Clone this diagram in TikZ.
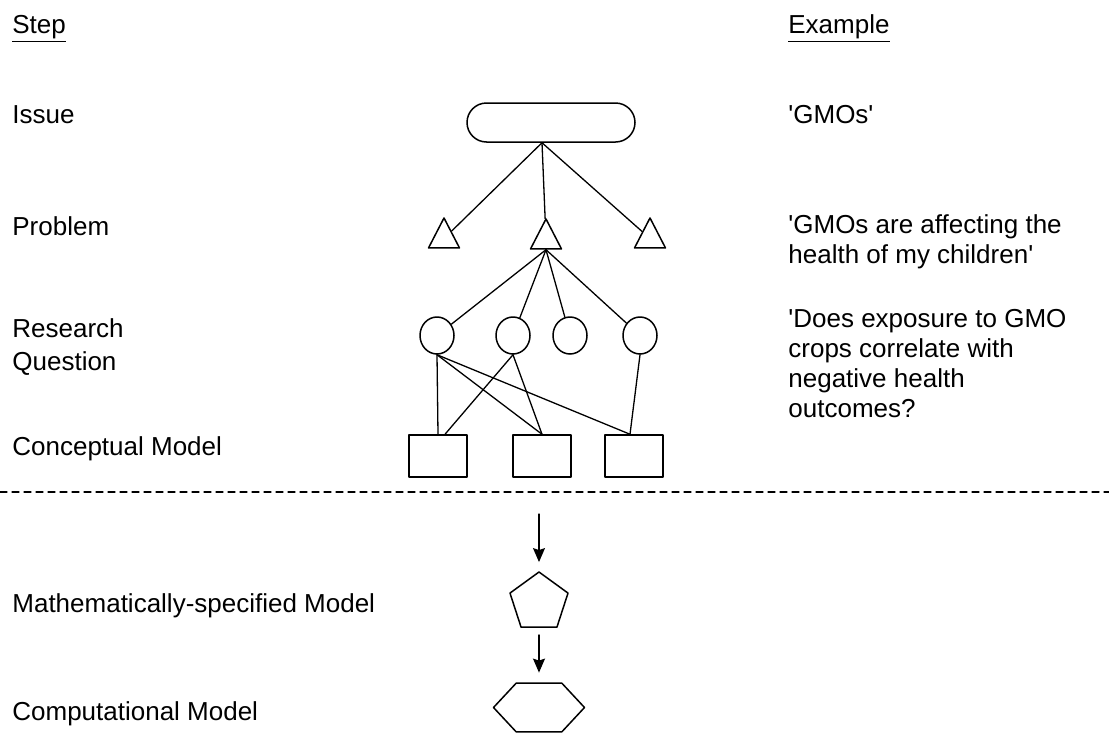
\documentclass[tikz,border=0pt]{standalone}
\usepackage{fontspec}
\setmainfont{Liberation Sans}
\usetikzlibrary{shapes.geometric,arrows.meta}

\begin{document}
\begin{tikzpicture}[x=0.5pt, y=-0.5pt, line join=round, line cap=round,
  >={Stealth[length=7pt,width=6pt,inset=1pt]},
  every node/.style={font=\fontsize{13}{15}\selectfont}]

  \tikzset{
    shape line/.style={draw, line width=0.75pt, inner sep=0pt},
    issue box/.style={shape line, rectangle, rounded corners=9.75pt, minimum width=84pt, minimum height=19.5pt},
    problem tri/.style={shape line, isosceles triangle, shape border rotate=90, isosceles triangle stretches, minimum width=15.5pt, minimum height=15pt, anchor=apex},
    question dot/.style={shape line, ellipse, minimum width=17pt, minimum height=18.5pt},
    concept box/.style={shape line, rectangle, minimum width=29pt, minimum height=21pt},
    link/.style={line width=0.65pt},
    step label/.style={anchor=base west, align=left, inner sep=0pt}
  }
  \useasboundingbox (0,0) rectangle (1109,734);

  % headings
  \node[step label] (stephead) at (12,33) {\underline{Step}};
  \node[step label] (examplehead) at (788,33) {\underline{Example}};

  % steps (base = last line)
  \node[step label] (lissue) at (12,123) {Issue};
  \node[step label] (lproblem) at (12,235) {Problem};
  \node[step label] (lquestion) at (12,370) {Research\\[1.5pt]Question};
  \node[step label] (lconcept) at (12,455) {Conceptual Model};
  \node[step label] (lmath) at (12,612) {Mathematically-specified Model};
  \node[step label] (lcomp) at (12,720) {Computational Model};

  % examples
  \node[step label] (xissue) at (788,123) {\textquotesingle GMOs\textquotesingle};
  \node[step label] (xproblem) at (788,263) {\textquotesingle GMOs are affecting the\\health of my children\textquotesingle};
  \node[step label] (xquestion) at (788,417) {\textquotesingle Does exposure to GMO\\crops correlate with\\negative health\\outcomes?};

  % shapes
  \node[issue box] (issue) at (551,122.5) {};
  \node[problem tri] (p1) at (444,216) {};
  \node[problem tri] (p2) at (546,217) {};
  \node[problem tri] (p3) at (650,216) {};
  \foreach \n/\x in {1/437,2/513,3/570,4/640}
    \node[question dot] (q\n) at (\x,335.5) {};
  \foreach \n/\x in {1/438,2/542,3/634}
    \node[concept box] (m\n) at (\x,456) {};
  \node[shape line, regular polygon, regular polygon sides=5, minimum size=30.5pt] (math) at (539,602.5) {};
  \node[shape line, regular polygon, regular polygon sides=6, minimum size=45.5pt, yscale=0.62, transform shape] (comp) at (539,707.5) {};

  % links
  \coordinate (root) at ([xshift=-4.5pt]issue.south);
  \foreach \n in {1,2,3}
    \draw[link] (root) -- (p\n);
  \foreach \n in {1,...,4}
    \draw[link] (p2.lower side) -- (q\n);
  \draw[link] (q1.south) -- (m1.north);
  \draw[link] (q1.south) -- (m2.north);
  \draw[link] (q1.south) -- ([xshift=-2pt]m3.north);
  \draw[link] (q2.south) -- ([xshift=3.5pt]m1.north);
  \draw[link] (q2.south) -- (m2.north);
  \draw[link] (q4.south) -- ([xshift=-2pt]m3.north);

  % boundary and arrows
  \coordinate (cutl) at (0,492);
  \coordinate (cutr) at (1109,492);
  \draw[link, dash pattern=on 3.5pt off 2.5pt] (cutl) -- (cutr);
  \coordinate (down) at (539,514);
  \draw[link, ->, shorten >=4.5pt] (down) -- (math.north);
  \draw[link, ->, shorten <=3.5pt, shorten >=5pt] (math.south) -- (comp.north);
\end{tikzpicture}
\end{document}
